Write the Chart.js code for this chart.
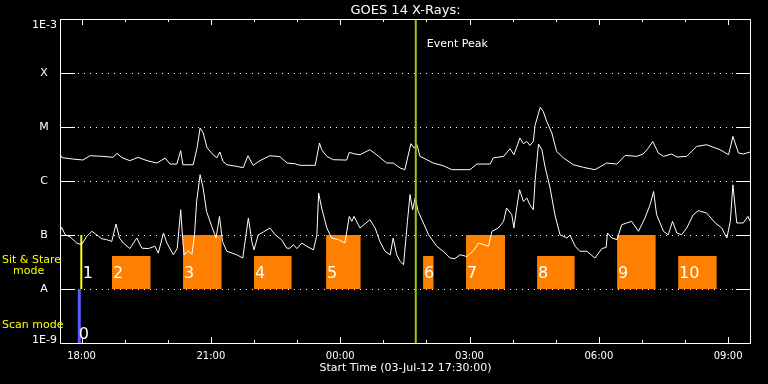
<!DOCTYPE html>
<html><head><meta charset="utf-8">
<script src="https://cdn.jsdelivr.net/npm/chart.js@4/dist/chart.umd.min.js"></script>
<style>html,body{margin:0;padding:0;background:#000;}canvas{display:block;}</style>
</head><body>
<canvas id="c" width="768" height="384" style="width:768px;height:384px"></canvas>
<script>
// ---------- data (x = hours since 03-Jul-12 17:30:00) ----------
const titleText = 'GOES 14 X-Rays:';
const xAxisTitle = 'Start Time (03-Jul-12 17:30:00)';
const xMaxHours = 16.03;
const majorTickHours = [0.5, 3.5, 6.5, 9.5, 12.5, 15.5];
const majorTickLabels = ['18:00', '21:00', '00:00', '03:00', '06:00', '09:00'];
const minorTickHours = [1.5, 2.5, 4.5, 5.5, 7.5, 8.5, 10.5, 11.5, 13.5, 14.5];
const yTickValues = [1e-9, 1e-8, 1e-7, 1e-6, 1e-5, 1e-4, 1e-3];
const yTickLabels = ['1E-9', 'A', 'B', 'C', 'M', 'X', '1E-3'];

// GOES long channel (1-8 A)
const longTimes = [0,0.05,0.30,0.53,0.70,1.00,1.23,1.32,1.44,1.62,1.81,2.02,2.25,2.44,2.55,2.71,2.80,2.85,3.09,3.18,3.25,3.32,3.41,3.55,3.64,3.71,3.78,3.87,4.11,4.25,4.36,4.48,4.64,4.87,5.10,5.27,5.45,5.57,5.92,6.02,6.07,6.19,6.34,6.65,6.71,6.84,6.96,7.19,7.39,7.58,7.73,7.89,8.00,8.14,8.21,8.28,8.35,8.51,8.66,8.89,9.09,9.51,9.67,9.98,10.05,10.29,10.44,10.53,10.67,10.75,10.83,10.90,10.98,11.02,11.14,11.21,11.29,11.41,11.52,11.68,11.91,12.14,12.41,12.68,12.92,13.11,13.38,13.53,13.65,13.75,13.88,14.00,14.19,14.31,14.54,14.77,15.00,15.31,15.51,15.61,15.74,15.85,16.01];
const longFlux = [3.1e-6,2.7e-6,2.55e-6,2.45e-6,2.94e-6,2.86e-6,2.74e-6,3.25e-6,2.7e-6,2.38e-6,2.74e-6,2.38e-6,2.15e-6,2.67e-6,2.06e-6,2.06e-6,3.64e-6,2.0e-6,2.0e-6,4.14e-6,9.58e-6,7.84e-6,4.14e-6,3.07e-6,2.7e-6,3.44e-6,2.31e-6,2.0e-6,1.86e-6,1.76e-6,2.94e-6,1.95e-6,2.38e-6,2.94e-6,2.82e-6,2.15e-6,2.09e-6,1.95e-6,1.95e-6,5.06e-6,3.8e-6,2.86e-6,2.48e-6,2.44e-6,3.39e-6,3.16e-6,3.07e-6,3.8e-6,2.86e-6,2.15e-6,2.15e-6,1.74e-6,1.62e-6,4.91e-6,4.09e-6,4.7e-6,2.86e-6,2.48e-6,2.15e-6,1.92e-6,1.62e-6,1.62e-6,2.06e-6,2.06e-6,2.67e-6,2.86e-6,3.96e-6,3.07e-6,6.25e-6,4.91e-6,5.41e-6,4.56e-6,5.41e-6,1.07e-5,2.31e-5,1.95e-5,1.27e-5,7.74e-6,3.53e-6,2.67e-6,2.0e-6,1.79e-6,1.62e-6,2.15e-6,2.06e-6,2.98e-6,2.86e-6,3.16e-6,4.09e-6,5.41e-6,3.3e-6,2.86e-6,3.16e-6,2.78e-6,2.86e-6,4.37e-6,4.7e-6,3.8e-6,3.07e-6,6.7e-6,3.3e-6,3.16e-6,3.44e-6];

// GOES short channel (0.5-4 A)
const shortTimes = [0,0.04,0.12,0.23,0.39,0.50,0.62,0.74,0.85,0.97,1.08,1.20,1.30,1.38,1.47,1.62,1.78,1.90,2.05,2.20,2.28,2.40,2.48,2.63,2.72,2.80,2.85,2.88,2.98,3.06,3.12,3.17,3.25,3.32,3.40,3.52,3.62,3.70,3.77,3.87,4.10,4.24,4.32,4.37,4.45,4.50,4.60,4.72,4.87,4.99,5.14,5.26,5.34,5.41,5.50,5.61,5.72,5.88,5.96,6.00,6.07,6.19,6.30,6.46,6.61,6.71,6.77,6.82,6.96,7.19,7.31,7.42,7.54,7.66,7.73,7.81,7.89,7.97,8.06,8.12,8.18,8.24,8.31,8.43,8.55,8.74,8.89,9.05,9.16,9.28,9.44,9.59,9.71,9.94,10.02,10.17,10.29,10.36,10.48,10.53,10.60,10.66,10.75,10.83,10.90,10.98,11.02,11.10,11.18,11.25,11.37,11.48,11.60,11.76,11.83,11.95,12.06,12.22,12.41,12.57,12.67,12.70,12.80,12.92,13.03,13.15,13.26,13.42,13.57,13.69,13.77,13.84,14.00,14.11,14.21,14.31,14.42,14.54,14.69,14.81,15.00,15.20,15.35,15.47,15.55,15.61,15.70,15.85,15.96,16.01];
const shortFlux = [1.17e-7,1.38e-7,1.01e-7,9.3e-8,7.1e-8,6.6e-8,9.4e-8,1.17e-7,1.01e-7,8.5e-8,8.2e-8,7.6e-8,1.6e-7,8.8e-8,7.1e-8,5.6e-8,8.8e-8,5.7e-8,5.6e-8,6.2e-8,4.6e-8,1.09e-7,7.1e-8,4.3e-8,5.7e-8,2.94e-7,7.6e-8,4.3e-8,5.1e-8,4.4e-8,1.01e-7,4.19e-7,1.31e-6,7.4e-7,2.73e-7,1.44e-7,8.8e-8,2.21e-7,7.6e-8,5.0e-8,4.3e-8,3.75e-8,1.09e-7,2.07e-7,7.6e-8,5.3e-8,1.01e-7,1.14e-7,1.35e-7,1.01e-7,8.2e-8,5.7e-8,5.7e-8,6.6e-8,5.6e-8,7.1e-8,6.2e-8,5.3e-8,1.01e-7,6.0e-7,3.16e-7,1.35e-7,8.8e-8,8.2e-8,7.1e-8,2.21e-7,1.79e-7,2.21e-7,1.35e-7,1.92e-7,1.35e-7,7.6e-8,5.0e-8,4.3e-8,8.8e-8,4.3e-8,3.24e-8,2.82e-8,1.79e-7,5.6e-7,2.94e-7,4.84e-7,2.73e-7,1.67e-7,1.01e-7,6.2e-8,5.0e-8,3.75e-8,3.64e-8,4.3e-8,4.0e-8,5.1e-8,7.1e-8,6.2e-8,1.17e-7,1.35e-7,1.79e-7,3.16e-7,2.38e-7,1.35e-7,3.39e-7,6.9e-7,4.19e-7,4.84e-7,3.64e-7,2.94e-7,9.8e-7,4.84e-6,3.8e-6,1.86e-6,7.4e-7,2.38e-7,1.01e-7,8.8e-8,1.0e-7,6.2e-8,5.0e-8,5.0e-8,3.75e-8,5.6e-8,5.9e-8,1.09e-7,8.8e-8,8.2e-8,1.55e-7,1.67e-7,1.79e-7,1.17e-7,2.07e-7,3.64e-7,6.4e-7,2.38e-7,1.17e-7,1.01e-7,1.79e-7,1.09e-7,1.01e-7,1.35e-7,2.38e-7,2.82e-7,2.55e-7,1.67e-7,1.35e-7,8.8e-8,1.79e-7,8.5e-7,1.67e-7,1.67e-7,2.21e-7,1.79e-7];

// observation blocks
const boxStart = [1.206, 2.854, 4.501, 6.172, 8.422, 9.420, 11.067, 12.923, 14.339];
const boxEnd   = [2.104, 3.752, 5.376, 6.977, 8.670, 10.325, 11.942, 13.821, 15.237];
const boxTop   = [4.1e-8, 1e-7, 4.1e-8, 1e-7, 4.1e-8, 1e-7, 4.1e-8, 1e-7, 4.1e-8];
const boxBase  = 1e-8;
const boxLabels = ['2', '3', '4', '5', '6', '7', '8', '9', '10'];
const sitStareHour = 0.494, sitStareRange = [1e-8, 1e-7], sitStareLabel = '1';
const scanHour = 0.448, scanRange = [1e-9, 1e-8], scanLabel = '0';
const eventPeakHour = 8.253, eventPeakLabel = 'Event Peak';
const modeLabels = ['Sit & Stare', 'mode', 'Scan mode'];

// ---------- build ----------
const pts = (ts, vs) => ts.map((t, i) => ({x: t, y: vs[i]}));
const ORANGE = '#ff8000';
const datasets = [
  {data: [{x: eventPeakHour, y: 1e-9}, {x: eventPeakHour, y: 1e-3}], borderColor: '#9acd00', borderWidth: 2, order: 0},
  {data: pts(longTimes, longFlux), borderColor: '#ffffff', borderWidth: 1, order: 1},
  {data: pts(shortTimes, shortFlux), borderColor: '#ffffff', borderWidth: 1, order: 1},
  {data: [{x: sitStareHour, y: sitStareRange[0]}, {x: sitStareHour, y: sitStareRange[1]}], borderColor: '#ffff00', borderWidth: 2, order: 2},
  {data: [{x: scanHour, y: scanRange[0]}, {x: scanHour, y: scanRange[1]}], borderColor: '#5a5aff', borderWidth: 3, order: 2}
];
boxStart.forEach((s, i) => {
  datasets.push({
    data: [{x: s, y: boxTop[i]}, {x: boxEnd[i], y: boxTop[i]}],
    borderColor: 'rgba(0,0,0,0)', borderWidth: 1, backgroundColor: ORANGE,
    fill: {value: boxBase}, order: 3
  });
});
datasets.forEach(d => { d.pointRadius = 0; d.tension = 0; if (d.fill === undefined) d.fill = false; });

const F = 'DejaVu Sans';
const overlay = {
  id: 'overlay',
  beforeDatasetsDraw(chart) {
    const {ctx, chartArea: a, scales: {y}} = chart;
    ctx.save();
    ctx.strokeStyle = '#fff'; ctx.lineWidth = 1; ctx.setLineDash([1, 5]);
    yTickValues.slice(1, -1).forEach(v => {
      const py = Math.round(y.getPixelForValue(v)) + 0.5;
      ctx.beginPath(); ctx.moveTo(a.left + 18, py); ctx.lineTo(a.right - 17, py); ctx.stroke();
    });
    ctx.restore();
  },
  afterDatasetsDraw(chart) {
    const {ctx, chartArea: a, scales: {x, y}} = chart;
    ctx.save();
    ctx.strokeStyle = '#fff'; ctx.lineWidth = 1;
    // frame
    ctx.strokeRect(a.left + 0.5, a.top + 0.5, a.right - a.left - 1, a.bottom - a.top);
    // y ticks
    yTickValues.forEach(v => {
      const py = Math.round(y.getPixelForValue(v)) + 0.5;
      ctx.beginPath();
      ctx.moveTo(a.left, py); ctx.lineTo(a.left + 15, py);
      ctx.moveTo(a.right - 15, py); ctx.lineTo(a.right, py);
      ctx.stroke();
    });
    // x ticks
    const xt = (h, len) => {
      const px = Math.round(x.getPixelForValue(h)) + 0.5;
      ctx.beginPath();
      ctx.moveTo(px, a.bottom); ctx.lineTo(px, a.bottom - len);
      ctx.moveTo(px, a.top); ctx.lineTo(px, a.top + len);
      ctx.stroke();
    };
    majorTickHours.forEach(h => xt(h, 6));
    minorTickHours.forEach(h => xt(h, 3));
    // texts
    ctx.fillStyle = '#fff';
    ctx.textBaseline = 'alphabetic';
    ctx.font = '13px "' + F + '"';
    ctx.textAlign = 'center';
    ctx.fillText(titleText, (a.left + a.right) / 2, 14);
    ctx.font = '11px "' + F + '"';
    yTickLabels.forEach((lab, i) => {
      const py = y.getPixelForValue(yTickValues[i]);
      if (lab.length === 1) {
        ctx.textAlign = 'center'; ctx.textBaseline = 'middle';
        ctx.fillText(lab, 44, py);
      } else {
        ctx.textAlign = 'right'; ctx.textBaseline = 'alphabetic';
        ctx.fillText(lab, 57, i === 0 ? py : py + 8.5);
      }
    });
    ctx.textBaseline = 'alphabetic';
    ctx.textAlign = 'center';
    ctx.font = '10px "' + F + '"';
    majorTickLabels.forEach((lab, i) => ctx.fillText(lab, x.getPixelForValue(majorTickHours[i]), 358.5));
    ctx.font = '11px "' + F + '"';
    ctx.fillText(xAxisTitle, (a.left + a.right) / 2, 371);
    // mode labels
    ctx.fillStyle = '#ffff00';
    ctx.textAlign = 'left';
    ctx.fillText(modeLabels[0], 2, 263);
    ctx.fillText(modeLabels[1], 13, 274);
    ctx.fillText(modeLabels[2], 2, 328);
    // event peak
    ctx.fillStyle = '#fff';
    ctx.fillText(eventPeakLabel, x.getPixelForValue(eventPeakHour) + 11, 47);
    // block labels
    ctx.font = '16px "' + F + '"';
    const baseY = y.getPixelForValue(boxBase);
    boxStart.forEach((s, i) => ctx.fillText(boxLabels[i], x.getPixelForValue(s) + 1, baseY - 11));
    ctx.fillText(sitStareLabel, x.getPixelForValue(sitStareHour) + 1.5, baseY - 11);
    ctx.fillText(scanLabel, x.getPixelForValue(scanHour) - 0.5, y.getPixelForValue(scanRange[0]) - 4);
    ctx.restore();
  }
};

new Chart(document.getElementById('c'), {
  type: 'line',
  data: {datasets},
  options: {
    responsive: false,
    animation: false,
    events: [],
    layout: {padding: {left: 60, right: 17, top: 19, bottom: 41}},
    plugins: {legend: {display: false}, tooltip: {enabled: false}, title: {display: false}},
    scales: {
      x: {type: 'linear', min: 0, max: xMaxHours, display: false},
      y: {type: 'logarithmic', min: 1e-9, max: 1e-3, display: false}
    }
  },
  plugins: [overlay]
});
</script>
</body></html>
